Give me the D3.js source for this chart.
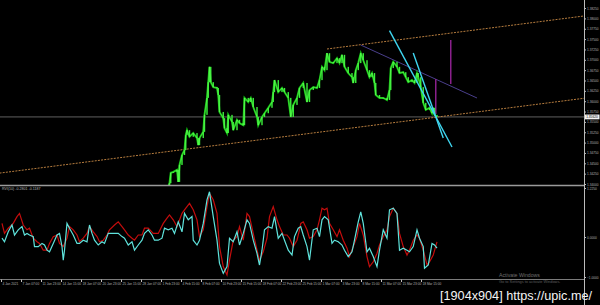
<!DOCTYPE html>
<html>
<head>
<meta charset="utf-8">
<script src="https://cdn.jsdelivr.net/npm/d3@7"></script>
<style>
html, body { margin: 0; padding: 0; background: #000; }
svg { display: block; }
.ax text { font-family: "Liberation Sans", Arial, sans-serif; font-size: 3.2px; fill: #b0b0b0; }
.ax path, .ax line { stroke: #bcbcbc; }
</style>
</head>
<body>
<svg id="chart" width="600" height="305"></svg>
<script>
// H4 bars, bar 0 = 4 Jan 2021 15:00
let priceBars = [128,
    130, 131, 133, 136, 137, 138, 140, 142, 143, 144,
    146, 149, 152, 153, 154, 157, 158, 160, 161, 162,
    163, 165, 168, 169, 170, 173, 174, 176, 177, 180,
    181, 184, 186, 189, 190, 193, 195, 197, 200, 201,
    204, 206, 209, 212, 213, 214, 217, 220, 222, 225,
    227, 229, 232, 234, 237, 240, 242, 245, 248, 250,
    252, 254, 256, 258, 261, 264, 266, 268, 270, 273,
    276, 277, 279, 281, 283, 285, 288, 290, 292, 294,
    295, 298, 301, 304, 306, 307, 309, 312, 314, 317,
    319, 321, 324, 326, 328, 329, 331, 333, 335, 338,
    340, 341, 342, 344]
let priceClose = [1.3385,
    1.3402, 1.3427, 1.3429, 1.3434, 1.3405, 1.3446, 1.3470, 1.3482, 1.3518, 1.3530,
    1.3514, 1.3523, 1.3511, 1.3494, 1.3511, 1.3526, 1.3567, 1.3608, 1.3646, 1.3683,
    1.3646, 1.3634, 1.3632, 1.3615, 1.3574, 1.3559, 1.3535, 1.3523, 1.3567, 1.3550,
    1.3530, 1.3555, 1.3547, 1.3542, 1.3608, 1.3598, 1.3608, 1.3586, 1.3562, 1.3542,
    1.3562, 1.3571, 1.3584, 1.3598, 1.3622, 1.3651, 1.3622, 1.3632, 1.3622, 1.3608,
    1.3562, 1.3591, 1.3608, 1.3632, 1.3644, 1.3598, 1.3627, 1.3634, 1.3632, 1.3651,
    1.3683, 1.3675, 1.3716, 1.3695, 1.3692, 1.3704, 1.3692, 1.3712, 1.3683, 1.3668,
    1.3658, 1.3644, 1.3675, 1.3692, 1.3716, 1.3699, 1.3675, 1.3658, 1.3668, 1.3644,
    1.3615, 1.3608, 1.3608, 1.3603, 1.3627, 1.3680, 1.3695, 1.3683, 1.3668, 1.3670,
    1.3658, 1.3646, 1.3651, 1.3644, 1.3668, 1.3658, 1.3634, 1.3596, 1.3579, 1.3584,
    1.3571, 1.3584, 1.3567, 1.3562]
let bidPrice = 1.3562

// drawn objects, [bar, price]
let channelLow = [[-6, 1.34263], [462, 1.36072]]
let channelHigh = [[256, 1.37261], [462, 1.38060]]
let slopeLine = [[283, 1.37357], [376, 1.36077]]
let cyanLineA = [[306, 1.37705], [356, 1.34894]]
let cyanLineB = [[325, 1.37164], [349, 1.35111]]
let vLine1 = [[355, 1.37478], [355, 1.36415]]
let vLine2 = [[343, 1.36536], [343, 1.35691]]

// oscillator
let cyanBars = [-4, -2, 1, 4, 6, 9, 12, 14, 16, 18,
    21, 22, 25, 28, 30, 32, 34, 37, 40, 42,
    44, 45, 46, 48, 50, 53, 56, 58, 61, 64,
    66, 68, 70, 73, 76, 78, 81, 84, 86, 89,
    92, 94, 97, 100, 102, 105, 108, 110, 113, 116,
    118, 121, 124, 126, 129, 132, 134, 137, 140, 142,
    145, 148, 149, 152, 154, 157, 160, 162, 165, 168,
    170, 173, 176, 178, 181, 184, 186, 189, 192, 194,
    197, 200, 202, 204, 206, 209, 212, 214, 217, 220,
    222, 225, 228, 230, 233,
    235, 237, 240, 242, 245, 248, 250, 252, 254, 257,
    260, 262, 265, 268, 270, 273, 276, 278, 281, 283,
    285, 288, 290, 293, 296, 298, 301, 304, 306, 309,
    312, 314, 317, 320, 322, 325, 328, 330, 333, 334,
    337, 340, 342, 344]
let cyanVals = [-0.03, -0.12, 0.13, 0.30, 0.05, 0.18, 0.26, 0.05, 0.09, 0.05,
    0.01, -0.24, -0.24, -0.16, -0.20, -0.33, -0.37, -0.16, 0.05, 0.09,
    -0.24, -0.58, -0.33, 0.34, 0.22, 0.05, -0.16, -0.16, -0.08, -0.12,
    0.30, 0.09, -0.08, -0.20, -0.12, -0.16, 0.09, 0.09, 0.09, 0.09,
    0.01, -0.03, -0.20, -0.12, -0.33, -0.20, -0.08, 0.09, 0.18, 0.05,
    -0.08, -0.08, -0.03, 0.22, 0.18, 0.22, 0.09, 0.38, 0.13, 0.59,
    0.43, 0.51, -0.08, -0.20, -0.08, 0.34, 0.93, 1.13, 0.51, -0.08,
    -0.66, -0.91, -0.74, -0.03, -0.12, 0.13, -0.20, 0.09, 0.43, 0.34,
    -0.08, -0.41, -0.70, -0.33, 0.18, 0.26, 0.22, 0.51, -0.03, 0.09,
    -0.08, -0.33, -0.45, 0.01, 0.22,
    0.26, 0.05, -0.24, -0.58, 0.18, 0.22, 0.01, 0.43, 0.51, 0.43,
    -0.16, -0.08, -0.12, -0.20, -0.33, -0.49, -0.37, -0.08, 0.38, 0.63,
    0.34, -0.37, -0.28, -0.49, -0.74, -0.33, 0.18, -0.03, 0.68, 0.72,
    0.59, -0.33, -0.28, -0.33, -0.37, -0.24, 0.18, -0.03, -0.24, -0.78,
    -0.70, -0.16, -0.20, -0.28]
let redBars = [-4, -2, 1, 5, 8, 10, 13, 16, 18, 21,
    24, 26, 29, 32, 34, 37, 40, 42, 45, 48,
    50, 53, 56, 58, 61, 64, 66, 69, 72, 74,
    77, 80, 82, 86, 89, 92, 94, 97, 100, 102,
    105, 108, 110, 113, 117, 121, 125, 128, 130, 133,
    136, 140, 142, 146, 149, 152, 154, 157, 160, 162,
    165, 168, 170, 173, 176, 178, 181, 184, 186, 189,
    192, 194, 197, 200, 202, 205, 208, 210, 213, 216,
    218, 221, 224, 226, 229, 232, 234,
    235, 237, 240, 242, 245, 248, 250, 252, 254, 256,
    258, 261, 264, 266, 269, 272, 274, 277, 280, 282,
    285, 288, 290, 293, 296, 298, 301, 304, 306, 309,
    312, 314, 317, 320, 322, 325, 328, 330, 333, 336,
    338, 341, 344]
let redVals = [0.34, 0.09, 0.22, 0.34, 0.51, 0.59, 0.30, 0.18, 0.22, -0.03,
    -0.12, -0.16, -0.33, -0.33, -0.16, 0.01, 0.05, -0.16, -0.24, -0.03,
    0.26, 0.18, 0.05, -0.12, -0.03, 0.09, 0.26, 0.13, 0.01, -0.12,
    -0.08, 0.05, 0.18, 0.30, 0.38, 0.26, 0.18, 0.05, -0.03, -0.08,
    0.05, 0.05, 0.22, 0.22, 0.09, 0.09, 0.34, 0.47, 0.55, 0.43,
    0.26, 0.59, 0.68, 0.84, 0.68, 0.43, 0.01, 0.18, 0.76, 1.09,
    0.93, 0.59, -0.24, -0.74, -0.95, -0.58, -0.08, 0.01, 0.26, -0.08,
    0.59, 0.51, 0.09, -0.33, -0.58, -0.37, -0.03, 0.51, 0.76, 0.43,
    0.26, 0.05, 0.05, -0.03, -0.24, -0.08, 0.18,
    0.34, 0.38, 0.18, -0.03, 0.01, 0.18, 0.43, 0.72, 0.68, 0.72,
    0.34, 0.18, 0.01, 0.18, -0.08, -0.28, -0.49, -0.24, 0.01, 0.34,
    0.05, -0.49, -0.74, -0.62, -0.41, -0.20, 0.01, 0.18, 0.51, 0.72,
    0.59, 0.09, -0.24, -0.45, -0.33, -0.08, 0.05, -0.03, -0.33, -0.70,
    -0.62, -0.45, -0.12]

let priceTicks = [1.34000, 1.34250, 1.34500, 1.34750, 1.35000, 1.35250, 1.35500, 1.35750, 1.36000,
    1.36250, 1.36500, 1.36750, 1.37000, 1.37250, 1.37500, 1.37750, 1.38000, 1.38250]
let oscTicks = [1.225, 0, -1]
let labelBars = [0, 16, 32, 48, 64, 80, 96, 112, 128, 144, 160, 176, 192, 208, 224, 240, 256, 272, 288, 304, 320, 336]
let timeLabels = ["4 Jan 2021", "7 Jan 07:00", "11 Jan 23:00", "14 Jan 15:00", "18 Jan 07:00", "20 Jan 23:00",
    "25 Jan 15:00", "28 Jan 07:00", "1 Feb 23:00", "4 Feb 15:00", "8 Feb 07:00", "10 Feb 23:00",
    "15 Feb 15:00", "18 Feb 07:00", "22 Feb 23:00", "25 Feb 15:00", "1 Mar 07:00", "3 Mar 23:00",
    "8 Mar 15:00", "11 Mar 07:00", "15 Mar 23:00", "18 Mar 15:00"]

let svg = d3.select("#chart")
svg.append("rect").attr("width", 600).attr("height", 305).attr("fill", "#000")

let x = d3.scaleLinear().domain([-5.6, 461.6]).range([0, 584])
let yP = d3.scaleLinear().domain([1.34, 1.3825]).range([184, 8.05])
let yO = d3.scaleLinear().domain([-1, 1]).range([277, 197])

let defs = svg.append("defs")
defs.append("clipPath").attr("id", "clipMain")
    .append("rect").attr("x", 0).attr("y", 0).attr("width", 584).attr("height", 185)
defs.append("clipPath").attr("id", "clipOsc")
    .append("rect").attr("x", 0).attr("y", 187).attr("width", 584).attr("height", 92)

let main = svg.append("g").attr("clip-path", "url(#clipMain)")
let pLine = d3.line().x(d => x(d[0])).y(d => yP(d[1]))

// bid line
main.append("line")
    .attr("x1", 0).attr("x2", 584)
    .attr("y1", yP(bidPrice)).attr("y2", yP(bidPrice))
    .attr("stroke", "#8a8a8a").attr("stroke-width", 0.7)

main.selectAll(".chan")
    .data([channelLow, channelHigh])
    .join("path")
    .attr("d", pLine)
    .attr("fill", "none")
    .attr("stroke", "#c98a45")
    .attr("stroke-width", 0.9)
    .attr("stroke-dasharray", "2,1.2")

main.append("path").datum(slopeLine)
    .attr("d", pLine).attr("fill", "none")
    .attr("stroke", "#4a3f8c").attr("stroke-width", 1)

main.selectAll(".vl")
    .data([vLine1, vLine2])
    .join("path")
    .attr("d", pLine)
    .attr("stroke", "#8a208c")
    .attr("stroke-width", 1.5)

// candles: open = previous close
let closes = d3.zip(priceBars, priceClose)
main.append("path").datum(closes)
    .attr("d", pLine).attr("fill", "none")
    .attr("stroke", "#10b810").attr("stroke-width", 2)
main.selectAll(".candle")
    .data(closes.slice(1).map((d, i) => [d[0], closes[i][1], d[1]]))
    .join("rect")
    .attr("x", d => x(d[0]) - 0.7)
    .attr("width", 1.4)
    .attr("y", d => yP(Math.max(d[1], d[2])))
    .attr("height", d => Math.max(0.8, Math.abs(yP(d[1]) - yP(d[2]))))
    .attr("fill", "#3cf03c")
main.append("path").datum(closes)
    .attr("d", pLine).attr("fill", "none")
    .attr("stroke", "#6cff5a").attr("stroke-width", 0.5)

main.selectAll(".cy")
    .data([cyanLineA, cyanLineB])
    .join("path")
    .attr("d", pLine)
    .attr("fill", "none")
    .attr("stroke", "#3fd6f0")
    .attr("stroke-width", 1.4)

// oscillator
let osc = svg.append("g").attr("clip-path", "url(#clipOsc)")
let oLine = d3.line().x(d => x(d[0])).y(d => yO(d[1]))
osc.append("path").datum(d3.zip(redBars, redVals))
    .attr("d", oLine).attr("fill", "none")
    .attr("stroke", "#c40d0d").attr("stroke-width", 1.2)
osc.append("path").datum(d3.zip(cyanBars, cyanVals))
    .attr("d", oLine).attr("fill", "none")
    .attr("stroke", "#5fe3dc").attr("stroke-width", 1.2)

// frame
svg.append("line").attr("x1", 0).attr("x2", 584).attr("y1", 185.5).attr("y2", 185.5)
    .attr("stroke", "#9a9a9a").attr("stroke-width", 1.4)
svg.append("line").attr("x1", 0).attr("x2", 584).attr("y1", 279.5).attr("y2", 279.5)
    .attr("stroke", "#9a9a9a").attr("stroke-width", 0.8)

let yAxis = d3.axisRight(yP)
    .tickValues(priceTicks)
    .tickFormat(d3.format(".5f"))
    .tickSize(1.5)
    .tickPadding(1)
svg.append("g").attr("class", "ax")
    .attr("transform", "translate(584.5, 0)")
    .call(yAxis)
    .call(g => g.select(".domain").attr("d", "M0,0V305"))

let oAxis = d3.axisRight(yO)
    .tickValues(oscTicks)
    .tickFormat(d3.format(".4f"))
    .tickSize(1.5)
    .tickPadding(1)
svg.append("g").attr("class", "ax")
    .attr("transform", "translate(584.5, 0)")
    .call(oAxis)
    .call(g => g.select(".domain").remove())

// bid label
let bid = svg.append("g").attr("transform", "translate(585, " + yP(bidPrice) + ")")
bid.append("rect").attr("x", 0).attr("y", -2.4).attr("width", 14.5).attr("height", 4.8).attr("fill", "#f2f2f2")
bid.append("text").attr("x", 1.2).attr("y", 1.2)
    .style("font-family", "Liberation Sans, Arial, sans-serif").style("font-size", "3.2px")
    .attr("fill", "#000").text(d3.format(".5f")(bidPrice))

let xAxis = d3.axisBottom(x)
    .tickValues(labelBars)
    .tickFormat((d, i) => timeLabels[i])
    .tickSize(2.5)
    .tickPadding(1)
svg.append("g").attr("class", "ax")
    .attr("transform", "translate(0, 279.5)")
    .call(xAxis)
    .call(g => g.select(".domain").remove())
    .call(g => g.selectAll(".tick line").attr("x1", -6).attr("x2", -6))
    .call(g => g.selectAll(".tick text").attr("text-anchor", "start").attr("x", -5))

svg.append("text").attr("x", 2).attr("y", 190)
    .style("font-family", "Liberation Sans, Arial, sans-serif").style("font-size", "3.6px")
    .attr("fill", "#b8b8b8")
    .text("RVI(10) -0.2801 -0.1187")

svg.append("text").attr("x", 499).attr("y", 277)
    .style("font-family", "Liberation Sans, Arial, sans-serif").style("font-size", "5.2px")
    .attr("fill", "#6f6f6f").text("Activate Windows")
svg.append("text").attr("x", 499).attr("y", 283)
    .style("font-family", "Liberation Sans, Arial, sans-serif").style("font-size", "3.9px")
    .attr("fill", "#5f5f5f").text("Go to Settings to activate Windows.")

svg.append("text").attr("x", 440).attr("y", 299.5)
    .style("font-family", "Liberation Sans, Arial, sans-serif").style("font-size", "12.5px")
    .attr("fill", "#f4f4f4")
    .attr("textLength", 152).attr("lengthAdjust", "spacingAndGlyphs")
    .text("[1904x904] https://upic.me/")
</script>
</body>
</html>
